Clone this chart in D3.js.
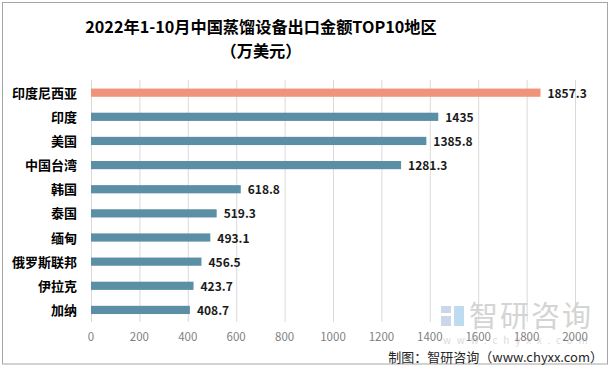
<!DOCTYPE html>
<html>
<head>
<meta charset="utf-8">
<script src="https://cdn.jsdelivr.net/npm/d3@7/dist/d3.min.js"></script>
<style>
  body { margin: 0; background: #fff; }
  text { font-family: "Noto Sans CJK SC", "Noto Sans", sans-serif; }
</style>
</head>
<body>
<script>
const width = 611;
const height = 370;

// data
const regions = ['印度尼西亚', '印度', '美国', '中国台湾', '韩国', '泰国', '缅甸', '俄罗斯联邦', '伊拉克', '加纳'];
const amounts = [1857.3, 1435, 1385.8, 1281.3, 618.8, 519.3, 493.1, 456.5, 423.7, 408.7];
const labels = ['1857.3', '1435', '1385.8', '1281.3', '618.8', '519.3', '493.1', '456.5', '423.7', '408.7'];
const ticks = [0, 200, 400, 600, 800, 1000, 1200, 1400, 1600, 1800, 2000];

const svg = d3.select('body').append('svg')
  .attr('width', width)
  .attr('height', height);

// outer frame
svg.append('rect')
  .attr('x', 2.5).attr('y', 2.5)
  .attr('width', 605).attr('height', 361.5)
  .attr('fill', '#fff')
  .attr('stroke', '#a6a6a6')
  .attr('stroke-width', 1);

const x = d3.scaleLinear().domain([0, 2000]).range([91, 575]);
const y = d3.scaleBand().domain(regions).range([80.6, 322]).paddingInner(0.66).paddingOuter(0.33);

// gridlines
svg.append('g')
  .selectAll('line')
  .data(ticks)
  .enter().append('line')
    .attr('x1', d => x(d) + 0.5)
    .attr('x2', d => x(d) + 0.5)
    .attr('y1', 80)
    .attr('y2', 322)
    .attr('stroke', '#d9d9d9')
    .attr('stroke-width', 1);

// watermark
const wm = svg.append('g').attr('opacity', 0.9);
wm.append('rect').attr('x', 441).attr('y', 306).attr('width', 10).attr('height', 7).attr('fill', '#c5d3e6');
wm.append('rect').attr('x', 441).attr('y', 316).attr('width', 10).attr('height', 10).attr('fill', '#c5d3e6');
wm.append('rect').attr('x', 454).attr('y', 306).attr('width', 10).attr('height', 20).attr('fill', '#b9d8ef');
wm.append('text')
  .attr('x', 469).attr('y', 327)
  .attr('font-size', 29)
  .attr('fill', '#d0d0d0')
  .attr('letter-spacing', 2)
  .text('智研咨询');
wm.append('text')
  .attr('x', 443).attr('y', 344)
  .attr('font-size', 10)
  .attr('fill', '#d8d8d8')
  .attr('letter-spacing', 5.8)
  .text('www.chyxx.com');

// x tick labels
svg.append('g')
  .selectAll('text')
  .data(ticks)
  .enter().append('text')
    .attr('x', d => x(d))
    .attr('y', 341)
    .attr('text-anchor', 'middle')
    .attr('font-size', 11.5)
    .attr('fill', '#7f7f7f')
    .text(d => d);

// bars
svg.append('g')
  .selectAll('rect')
  .data(regions)
  .enter().append('rect')
    .attr('x', x(0))
    .attr('y', d => y(d))
    .attr('width', (d, i) => x(amounts[i]) - x(0))
    .attr('height', y.bandwidth())
    .attr('fill', (d, i) => i === 0 ? '#f0937b' : '#5b8fa6');

// value labels
svg.append('g')
  .selectAll('text')
  .data(regions)
  .enter().append('text')
    .attr('x', (d, i) => x(amounts[i]) + 7)
    .attr('y', d => y(d) + y.bandwidth() / 2 + 5)
    .attr('font-size', 12)
    .attr('font-weight', 'bold')
    .attr('fill', '#1a1a1a')
    .text((d, i) => labels[i]);

// category labels
svg.append('g')
  .selectAll('text')
  .data(regions)
  .enter().append('text')
    .attr('x', 77)
    .attr('y', d => y(d) + y.bandwidth() / 2 + 5)
    .attr('text-anchor', 'end')
    .attr('font-size', 13)
    .attr('font-weight', 'bold')
    .attr('fill', '#000')
    .text(d => d);

// title
svg.append('text')
  .attr('x', 261).attr('y', 33)
  .attr('text-anchor', 'middle')
  .attr('font-size', 16.2)
  .attr('font-weight', 'bold')
  .attr('fill', '#000')
  .text('2022年1-10月中国蒸馏设备出口金额TOP10地区');
svg.append('text')
  .attr('x', 261).attr('y', 57)
  .attr('text-anchor', 'middle')
  .attr('font-size', 16.2)
  .attr('font-weight', 'bold')
  .attr('fill', '#000')
  .text('（万美元）');

// source
svg.append('text')
  .attr('x', 603).attr('y', 362)
  .attr('text-anchor', 'end')
  .attr('font-size', 13)
  .attr('fill', '#262626')
  .text('制图：智研咨询（www.chyxx.com）');
</script>
</body>
</html>
